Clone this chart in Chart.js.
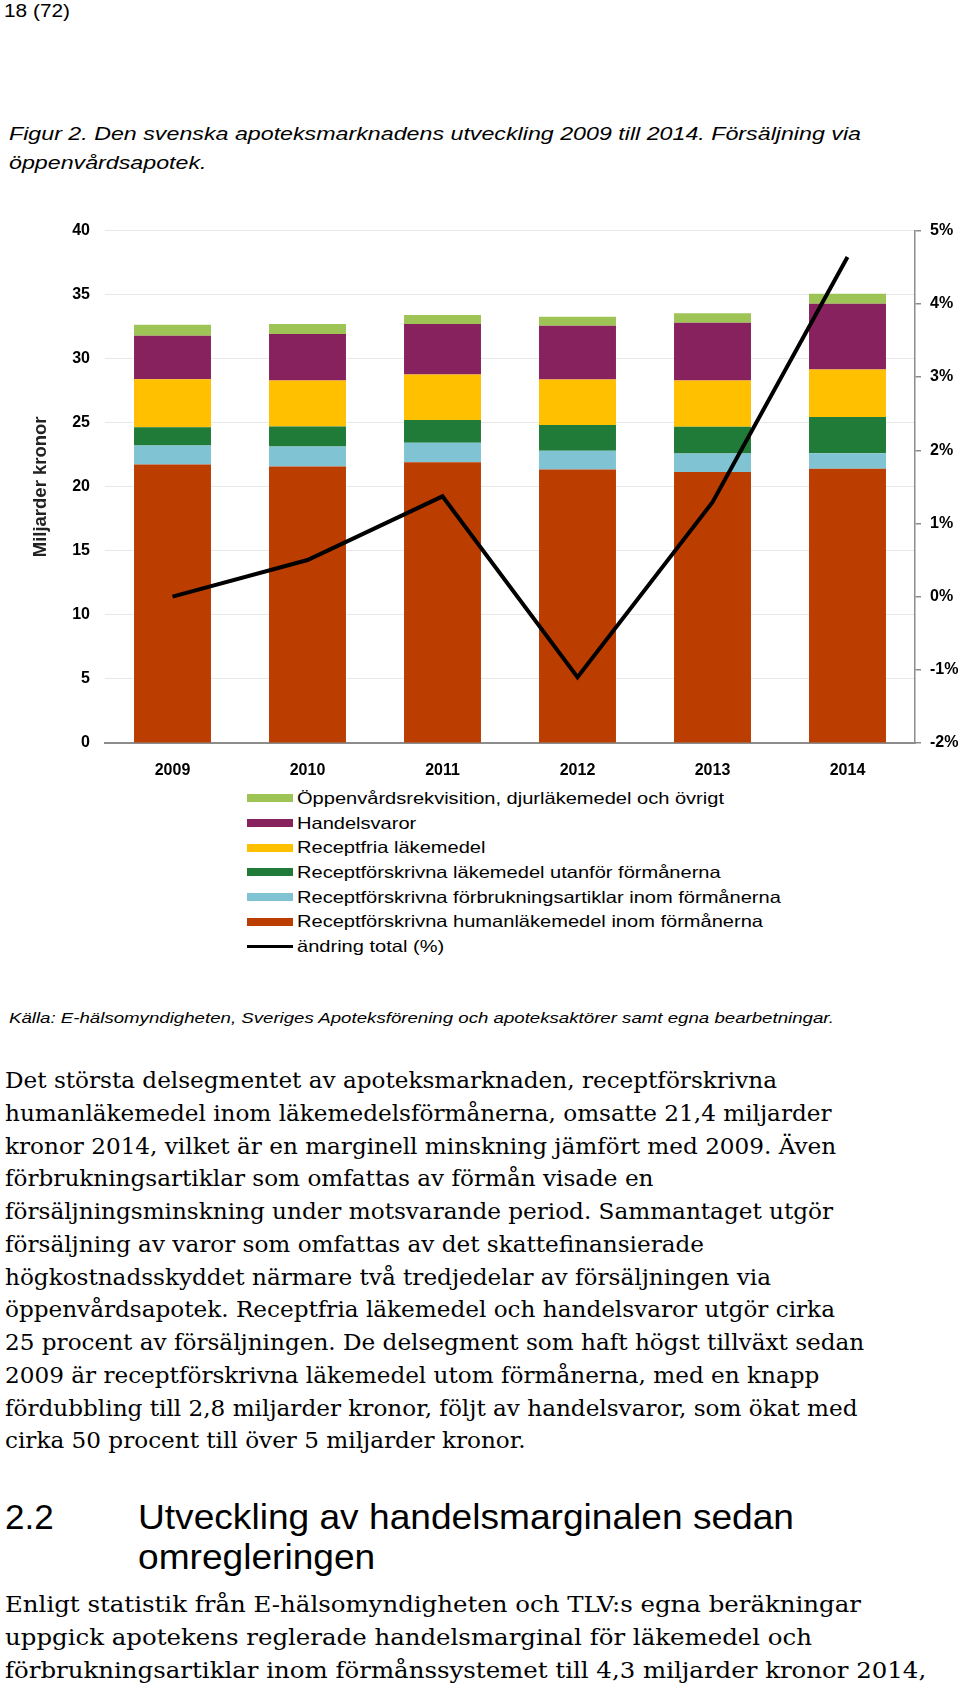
<!DOCTYPE html>
<html lang="sv">
<head>
<meta charset="utf-8">
<title>Figur 2 – apoteksmarknadens utveckling</title>
<script src="https://cdn.jsdelivr.net/npm/chart.js@4.4.1/dist/chart.umd.min.js"></script>
<style>
  html, body { margin: 0; padding: 0; background: #fff; }
  body { position: relative; width: 960px; height: 1687px; overflow: hidden; color: #000;
         font-family: 'Liberation Sans', Arial, sans-serif; }
  .blk { position: absolute; white-space: nowrap; transform-origin: 0 0; }
  .sans { font-family: 'Liberation Sans', Arial, sans-serif; }
  .serif { font-family: 'DejaVu Serif', Georgia, serif; }
  #pageNo { left: 4px; top: 0; font-size: 18px; line-height: 22px; }
  #caption { left: 9px; top: 120px; font-size: 18px; line-height: 29px; font-style: italic; }
  #chartBox { position: absolute; left: 0; top: 200px; width: 960px; height: 580px; }
  #legend { position: absolute; left: 247px; top: 786px; }
  .lg-row { height: 24.7px; display: flex; align-items: center; white-space: nowrap; }
  .lg-sw { width: 46px; flex: none; margin-right: 4px; }
  .lg-txt { display: inline-block; font-size: 16.5px; transform-origin: 0 50%; }
  #source { left: 9px; top: 1008px; font-size: 15.5px; line-height: 20px; font-style: italic; }
  #body1 { left: 5px; top: 1065px; font-size: 21.5px; line-height: 32.77px; }
  #h2num { left: 5px; top: 1497px; font-size: 35px; line-height: 40px; }
  #h2txt { left: 138px; top: 1497px; font-size: 35px; line-height: 40px; }
  #body2 { left: 5px; top: 1589px; font-size: 21.5px; line-height: 32.8px; }
</style>
</head>
<body>

<div id="pageNo" class="blk sans" data-w="66"><span>18 (72)</span></div>

<div id="caption" class="blk sans" data-w="852"><span>Figur 2. Den svenska apoteksmarknadens utveckling 2009 till 2014. Försäljning via</span><br><span>öppenvårdsapotek.</span></div>

<div id="chartBox"><canvas id="chart" width="960" height="580"></canvas></div>

<div id="legend"></div>

<div id="source" class="blk sans" data-w="825"><span>Källa: E-hälsomyndigheten, Sveriges Apoteksförening och apoteksaktörer samt egna bearbetningar.</span></div>

<div id="body1" class="blk serif" data-w="772"><span>Det största delsegmentet av apoteksmarknaden, receptförskrivna</span><br><span>humanläkemedel inom läkemedelsförmånerna, omsatte 21,4 miljarder</span><br><span>kronor 2014, vilket är en marginell minskning jämfört med 2009. Även</span><br><span>förbrukningsartiklar som omfattas av förmån visade en</span><br><span>försäljningsminskning under motsvarande period. Sammantaget utgör</span><br><span>försäljning av varor som omfattas av det skattefinansierade</span><br><span>högkostnadsskyddet närmare två tredjedelar av försäljningen via</span><br><span>öppenvårdsapotek. Receptfria läkemedel och handelsvaror utgör cirka</span><br><span>25 procent av försäljningen. De delsegment som haft högst tillväxt sedan</span><br><span>2009 är receptförskrivna läkemedel utom förmånerna, med en knapp</span><br><span>fördubbling till 2,8 miljarder kronor, följt av handelsvaror, som ökat med</span><br><span>cirka 50 procent till över 5 miljarder kronor.</span></div>

<div id="h2num" class="blk sans"><span>2.2</span></div>
<div id="h2txt" class="blk sans" data-w="656"><span>Utveckling av handelsmarginalen sedan</span><br><span>omregleringen</span></div>

<div id="body2" class="blk serif" data-w="856"><span>Enligt statistik från E-hälsomyndigheten och TLV:s egna beräkningar</span><br><span>uppgick apotekens reglerade handelsmarginal för läkemedel och</span><br><span>förbrukningsartiklar inom förmånssystemet till 4,3 miljarder kronor 2014,</span></div>

<script>
// ─── Data (miljarder kronor) ───
const years = ['2009', '2010', '2011', '2012', '2013', '2014'];
const humanlakemedelInom = [21.75, 21.59, 21.93, 21.36, 21.15, 21.41];
const forbrukningInom    = [1.48, 1.56, 1.51, 1.45, 1.46, 1.22];
const lakemedelUtanfor   = [1.43, 1.56, 1.77, 2.01, 2.08, 2.82];
const receptfria         = [3.75, 3.59, 3.57, 3.57, 3.62, 3.72];
const handelsvaror       = [3.39, 3.64, 3.93, 4.19, 4.50, 5.13];
const ovrigt             = [0.86, 0.78, 0.70, 0.70, 0.74, 0.78];
// ändring total, procent
const andringTotal       = [0.0, 0.5, 1.37, -1.1, 1.29, 4.64];

// tick labels
const kronorTicks = [0, 5, 10, 15, 20, 25, 30, 35, 40];
const pctTicks = [-2, -1, 0, 1, 2, 3, 4, 5];

// ─── Helpers ───
const tickFont = { family: 'Liberation Sans', size: 16, weight: 'bold' };

function bar(label, data, color) {
  return {
    type: 'bar', label, data, backgroundColor: color, borderWidth: 0,
    yAxisID: 'y', stack: 'total', order: 1,
    categoryPercentage: 1, barPercentage: 0.57
  };
}

function fitBlocks() {
  document.querySelectorAll('[data-w]').forEach(el => {
    const w = el.querySelector('span').getBoundingClientRect().width;
    el.style.transform = 'scaleX(' + (parseFloat(el.dataset.w) / w) + ')';
  });
}

// ─── Chart ───
const chart = new Chart(document.getElementById('chart'), {
  data: {
    labels: years,
    datasets: [
      {
        type: 'line', label: 'ändring total (%)', data: andringTotal, yAxisID: 'y1', order: 0,
        borderColor: '#000', borderWidth: 4, pointRadius: 0, tension: 0,
        borderJoinStyle: 'miter', fill: false
      },
      bar('Receptförskrivna humanläkemedel inom förmånerna', humanlakemedelInom, '#bb3d00'),
      bar('Receptförskrivna förbrukningsartiklar inom förmånerna', forbrukningInom, '#80c4d3'),
      bar('Receptförskrivna läkemedel utanför förmånerna', lakemedelUtanfor, '#1f7b37'),
      bar('Receptfria läkemedel', receptfria, '#ffc000'),
      bar('Handelsvaror', handelsvaror, '#88225f'),
      bar('Öppenvårdsrekvisition, djurläkemedel och övrigt', ovrigt, '#9dc455')
    ]
  },
  options: {
    responsive: false,
    animation: false,
    devicePixelRatio: 1,
    layout: { padding: { top: 30.7, left: 0, right: 0, bottom: 0 } },
    plugins: { legend: { display: false }, tooltip: { enabled: false } },
    scales: {
      x: {
        stacked: true,
        grid: { display: false },
        border: { display: true, color: '#8c8c8c', width: 2 },
        ticks: { font: { ...tickFont, size: 16 }, color: '#000', padding: 10 },
        afterFit: s => { s.height = 37; }
      },
      y: {
        position: 'left', stacked: true, min: 0, max: 40,
        afterBuildTicks: s => { s.ticks = kronorTicks.map(v => ({ value: v })); },
        grid: { color: '#e8e8e8', lineWidth: 1, drawTicks: false },
        border: { display: false },
        ticks: { font: tickFont, color: '#000', padding: 15 },
        title: {
          display: true, text: 'Miljarder kronor', color: '#222',
          font: { family: 'Liberation Sans', size: 18.5, weight: 'bold' },
          padding: { top: 30, bottom: 0 }
        },
        afterFit: s => { s.width = 105; }
      },
      y1: {
        position: 'right', min: -2, max: 5,
        afterBuildTicks: s => { s.ticks = pctTicks.map(v => ({ value: v })); },
        grid: { drawOnChartArea: false, drawTicks: true, tickLength: 6, color: '#8c8c8c', lineWidth: 1.5 },
        border: { display: true, color: '#8c8c8c', width: 1.5 },
        ticks: { font: tickFont, color: '#000', padding: 9, callback: v => v + '%' },
        afterFit: s => { s.width = 45; }
      }
    }
  }
});

// ─── Legend (built from the chart's datasets, top segment first) ───
function buildLegend() {
  const ds = chart.data.datasets;
  const items = ds.filter(d => d.type === 'bar').reverse().concat(ds.filter(d => d.type === 'line'));
  const box = document.getElementById('legend');
  box.innerHTML = items.map(d => {
    const sw = d.type === 'line'
      ? `<div class="lg-sw" style="height:3px;background:${d.borderColor}"></div>`
      : `<div class="lg-sw" style="height:8px;background:${d.backgroundColor}"></div>`;
    return `<div class="lg-row">${sw}<span class="lg-txt">${d.label}</span></div>`;
  }).join('');
  const txts = box.querySelectorAll('.lg-txt');
  const k = 427 / txts[0].getBoundingClientRect().width;
  txts.forEach(t => { t.style.transform = 'scaleX(' + k + ')'; });
}

buildLegend();
fitBlocks();
</script>
</body>
</html>
